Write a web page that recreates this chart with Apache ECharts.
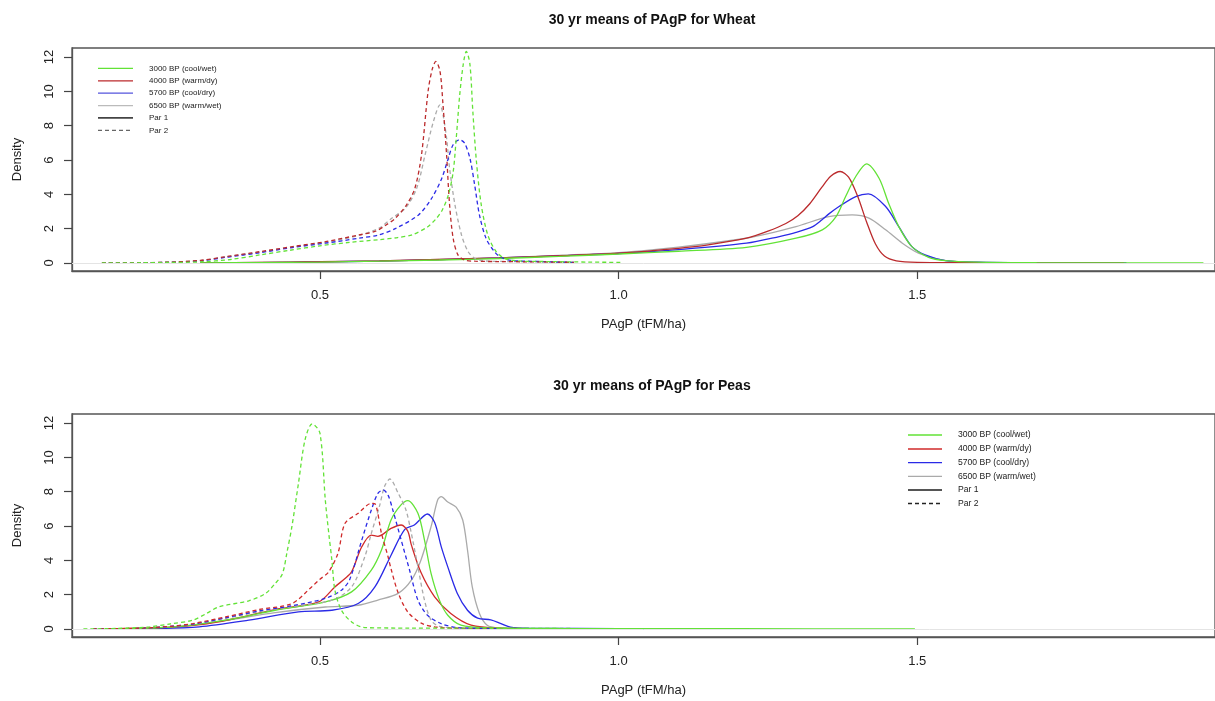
<!DOCTYPE html>
<html>
<head>
<meta charset="utf-8">
<script src="https://cdn.jsdelivr.net/npm/echarts@6/dist/echarts.min.js"></script>
<style>
html,body{margin:0;padding:0;background:#fff;}
#chart{width:1215px;height:701px;}
</style>
</head>
<body>
<div id="chart"></div>
<script>
// ---------- data ----------
const titles = ['30 yr means of PAgP for Wheat', '30 yr means of PAgP for Peas'];
const xAxisName = 'PAgP (tFM/ha)';
const yAxisName = 'Density';
const xTicks = [0.5, 1.0, 1.5];
const yTicks = [0, 2, 4, 6, 8, 10, 12];
const legendLabels = ['3000 BP (cool/wet)', '4000 BP (warm/dy)', '5700 BP (cool/dry)', '6500 BP (warm/wet)', 'Par 1', 'Par 2'];

// Wheat, Par 1 (solid)
const wheatP1Green = [[0.3,0],[0.4,0.02],[0.5,0.05],[0.6,0.1],[0.7,0.17],[0.8,0.26],[0.9,0.38],[1.0,0.52],[1.1,0.68],[1.214,0.91],[1.297,1.44],[1.341,1.93],[1.364,2.7],[1.380,3.87],[1.397,5.04],[1.415,5.78],[1.436,4.94],[1.452,3.48],[1.469,2.12],[1.491,0.95],[1.519,0.33],[1.547,0.14],[1.6,0.05],[1.7,0.02],[1.979,0]];
const wheatP1Red = [[0.3,0],[0.4,0.03],[0.5,0.07],[0.6,0.12],[0.7,0.2],[0.8,0.3],[0.9,0.42],[1.0,0.57],[1.1,0.85],[1.15,1.05],[1.214,1.44],[1.25,1.85],[1.28,2.3],[1.30,2.75],[1.32,3.45],[1.34,4.4],[1.355,5.05],[1.371,5.33],[1.385,5.0],[1.40,3.9],[1.415,2.4],[1.43,1.1],[1.445,0.4],[1.465,0.12],[1.5,0.03],[1.6,0.01],[1.846,0]];
const wheatP1Blue = [[0.3,0],[0.4,0.02],[0.5,0.06],[0.6,0.11],[0.7,0.19],[0.8,0.29],[0.9,0.41],[1.0,0.55],[1.1,0.78],[1.214,1.15],[1.269,1.54],[1.297,1.78],[1.325,2.12],[1.34,2.5],[1.352,2.86],[1.369,3.29],[1.397,3.87],[1.418,4.03],[1.447,3.29],[1.469,2.12],[1.491,0.95],[1.513,0.47],[1.547,0.14],[1.6,0.04],[1.7,0.01],[1.85,0]];
const wheatP1Gray = [[0.3,0],[0.4,0.03],[0.5,0.07],[0.6,0.12],[0.7,0.2],[0.8,0.3],[0.9,0.44],[1.0,0.6],[1.1,0.92],[1.214,1.44],[1.241,1.63],[1.297,2.12],[1.352,2.7],[1.391,2.8],[1.419,2.61],[1.447,1.93],[1.475,1.15],[1.502,0.57],[1.536,0.21],[1.58,0.06],[1.7,0.01],[1.85,0]];
// Wheat, Par 2 (dashed)
const wheatP2Green = [[0.135,0],[0.2,0.01],[0.25,0.03],[0.3,0.06],[0.35,0.2],[0.4,0.47],[0.45,0.74],[0.5,1.0],[0.55,1.2],[0.6,1.36],[0.63,1.48],[0.655,1.65],[0.68,2.1],[0.695,2.6],[0.705,3.1],[0.715,3.97],[0.723,5.3],[0.728,7.2],[0.734,9.8],[0.740,11.6],[0.745,12.33],[0.751,11.6],[0.756,8.8],[0.762,5.9],[0.770,3.4],[0.781,1.63],[0.795,0.66],[0.809,0.27],[0.83,0.12],[0.88,0.08],[0.95,0.05],[1.005,0.03]];
const wheatP2Red = [[0.135,0],[0.2,0.01],[0.25,0.05],[0.3,0.15],[0.343,0.37],[0.4,0.66],[0.454,0.95],[0.509,1.24],[0.565,1.63],[0.593,1.85],[0.61,2.2],[0.626,2.6],[0.645,3.39],[0.659,4.36],[0.670,6.3],[0.681,10.0],[0.688,11.3],[0.694,11.75],[0.701,11.17],[0.706,9.22],[0.712,6.3],[0.717,3.39],[0.723,1.44],[0.731,0.47],[0.742,0.17],[0.76,0.1],[0.8,0.08],[0.87,0.06],[0.925,0.03]];
const wheatP2Blue = [[0.135,0],[0.2,0.01],[0.25,0.04],[0.3,0.12],[0.343,0.33],[0.4,0.6],[0.454,0.9],[0.509,1.15],[0.565,1.44],[0.598,1.63],[0.626,2.0],[0.665,2.8],[0.687,3.77],[0.704,4.94],[0.715,6.11],[0.723,6.89],[0.734,7.18],[0.742,6.99],[0.751,6.11],[0.759,4.55],[0.767,2.8],[0.778,1.44],[0.792,0.66],[0.803,0.33],[0.82,0.15],[0.87,0.08],[0.925,0.03]];
const wheatP2Gray = [[0.135,0],[0.2,0.01],[0.25,0.05],[0.3,0.14],[0.343,0.35],[0.4,0.64],[0.454,0.93],[0.509,1.2],[0.565,1.6],[0.6,2.05],[0.62,2.6],[0.643,3.19],[0.662,4.36],[0.676,6.3],[0.690,8.25],[0.701,9.22],[0.706,8.64],[0.712,7.28],[0.717,5.52],[0.726,3.39],[0.737,1.63],[0.748,0.66],[0.759,0.27],[0.775,0.12],[0.82,0.08],[0.9,0.05],[0.925,0.03]];

// Peas, Par 1 (solid)
const peasP1Green = [[0.15,0],[0.25,0.1],[0.342,0.51],[0.425,1.09],[0.509,1.58],[0.553,2.16],[0.586,3.43],[0.603,4.6],[0.619,6.35],[0.635,7.2],[0.647,7.48],[0.664,6.74],[0.675,5.18],[0.686,3.24],[0.700,1.68],[0.714,0.80],[0.736,0.22],[0.78,0.06],[0.9,0.03],[1.0,0.02],[1.2,0.01],[1.496,0]];
const peasP1Red = [[0.15,0],[0.25,0.1],[0.3,0.25],[0.35,0.55],[0.425,1.13],[0.498,1.58],[0.525,2.45],[0.542,2.94],[0.553,3.33],[0.570,4.79],[0.586,5.47],[0.597,5.4],[0.619,5.86],[0.636,6.06],[0.647,5.7],[0.653,4.9],[0.669,3.3],[0.692,1.87],[0.719,0.90],[0.753,0.22],[0.8,0.05],[0.9,0.02],[1.0,0.01]];
const peasP1Blue = [[0.15,0],[0.215,0.02],[0.298,0.12],[0.381,0.51],[0.464,0.99],[0.520,1.09],[0.564,1.48],[0.592,2.45],[0.619,4.3],[0.642,5.8],[0.658,6.06],[0.68,6.7],[0.692,6.2],[0.703,4.8],[0.714,3.62],[0.730,2.07],[0.747,1.09],[0.764,0.63],[0.786,0.53],[0.803,0.31],[0.819,0.1],[0.85,0.04],[1.0,0.02],[1.147,0]];
const peasP1Gray = [[0.15,0],[0.25,0.08],[0.342,0.5],[0.425,0.95],[0.509,1.28],[0.564,1.38],[0.597,1.68],[0.631,2.07],[0.653,2.84],[0.669,4.01],[0.686,5.96],[0.697,7.52],[0.703,7.71],[0.714,7.4],[0.728,7.1],[0.739,6.35],[0.747,4.6],[0.755,2.45],[0.767,0.90],[0.780,0.22],[0.8,0.06],[0.85,0.02]];
// Peas, Par 2 (dashed)
const peasP2Green = [[0.104,0],[0.16,0.03],[0.215,0.12],[0.25,0.3],[0.287,0.51],[0.31,0.9],[0.331,1.29],[0.381,1.64],[0.409,2.07],[0.425,2.65],[0.437,3.2],[0.445,4.5],[0.453,5.96],[0.464,8.49],[0.475,11.02],[0.487,11.96],[0.5,11.41],[0.509,7.5],[0.515,5.5],[0.520,4.0],[0.525,2.26],[0.536,1.09],[0.553,0.41],[0.575,0.08],[0.65,0.05],[0.8,0.04],[0.95,0.02]];
const peasP2Red = [[0.12,0],[0.2,0.05],[0.25,0.15],[0.287,0.31],[0.342,0.70],[0.398,1.13],[0.453,1.48],[0.486,2.45],[0.50,2.9],[0.514,3.3],[0.53,4.4],[0.542,6.16],[0.564,6.74],[0.586,7.32],[0.592,7.3],[0.603,5.57],[0.614,4.21],[0.619,3.5],[0.631,2.1],[0.647,0.99],[0.669,0.35],[0.692,0.12],[0.73,0.04],[0.8,0.01]];
const peasP2Blue = [[0.12,0],[0.2,0.04],[0.287,0.28],[0.342,0.65],[0.398,1.05],[0.453,1.35],[0.509,1.78],[0.536,2.26],[0.55,2.9],[0.570,5.18],[0.586,6.93],[0.597,7.9],[0.606,8.1],[0.614,7.8],[0.622,6.93],[0.636,5.18],[0.650,3.43],[0.664,1.68],[0.680,0.80],[0.703,0.31],[0.73,0.08],[0.8,0.02]];
const peasP2Gray = [[0.12,0],[0.2,0.04],[0.287,0.28],[0.342,0.62],[0.398,1.0],[0.453,1.3],[0.520,1.68],[0.553,2.45],[0.575,4.2],[0.586,5.57],[0.6,7.2],[0.608,8.3],[0.617,8.74],[0.631,7.91],[0.644,6.93],[0.653,5.57],[0.664,3.62],[0.675,1.68],[0.686,0.51],[0.70,0.15],[0.75,0.03],[0.8,0.01]];

// ---------- styles ----------
const FONT = '"Liberation Sans", Arial, Helvetica, sans-serif';
const C_GREEN = '#62e236';
const C_RED_TOP = '#bb2a2c';
const C_RED_BOT = '#d02a2a';
const C_BLUE = '#2a2ae6';
const C_GRAY = '#aaaaaa';
const DASH = [4, 3];

const X_MIN = 0.0849, X_MAX = 1.9984, Y_MIN = -0.47, Y_MAX = 12.53;

function line(data, color, dashed, idx) {
  return {
    type: 'line', data: data, xAxisIndex: idx, yAxisIndex: idx,
    showSymbol: false, symbol: 'none', smooth: 0.3,
    silent: true, animation: false,
    lineStyle: { color: color, width: 1.3, type: dashed ? DASH : 'solid' }
  };
}

function zeroLine(idx) {
  return {
    type: 'line', data: [], xAxisIndex: idx, yAxisIndex: idx, silent: true, animation: false,
    markLine: { silent: true, symbol: 'none', label: { show: false },
      lineStyle: { color: '#e4e4e4', width: 1, type: 'solid' },
      data: [{ yAxis: 0 }], animation: false }
  };
}

function gridCfg(top) {
  return { left: 72, top: top, width: 1150, height: 223, show: true,
    borderColor: '#555', borderWidth: 1.3, backgroundColor: 'transparent' };
}

function xAxisCfg(idx) {
  return {
    type: 'value', gridIndex: idx, min: X_MIN, max: X_MAX,
    name: xAxisName, nameLocation: 'middle', nameGap: 47,
    nameTextStyle: { fontFamily: FONT, fontSize: 13, color: '#222' },
    axisLine: { show: true, onZero: false, lineStyle: { color: '#555', width: 1.3 } },
    axisTick: { show: true, length: 8, customValues: xTicks, lineStyle: { color: '#444', width: 1.2 } },
    axisLabel: { customValues: xTicks, margin: 18, fontFamily: FONT, fontSize: 13, color: '#222',
      formatter: v => v.toFixed(1) },
    splitLine: { show: false }
  };
}

function yAxisCfg(idx) {
  return {
    type: 'value', gridIndex: idx, min: Y_MIN, max: Y_MAX,
    name: yAxisName, nameLocation: 'middle', nameGap: 48, nameRotate: 90,
    nameTextStyle: { fontFamily: FONT, fontSize: 13, color: '#222' },
    axisLine: { show: true, onZero: false, lineStyle: { color: '#555', width: 1.3 } },
    axisTick: { show: true, length: 8, customValues: yTicks, lineStyle: { color: '#444', width: 1.2 } },
    axisLabel: { customValues: yTicks, rotate: 90, margin: 16, fontFamily: FONT, fontSize: 13, color: '#222' },
    splitLine: { show: false }
  };
}

function legendGraphic(x0, x1, xt, rows, fontSize, colors, par1Color, par2Color) {
  const els = [];
  legendLabels.forEach((lab, i) => {
    const y = rows[i];
    let color, dashed = false, width = 1.3;
    if (i < 4) color = colors[i];
    else if (i === 4) { color = par1Color; width = 1.8; }
    else { color = par2Color; dashed = true; width = 1.3; }
    els.push({ type: 'line', silent: true,
      shape: { x1: x0, y1: y, x2: x1, y2: y },
      style: { stroke: color, lineWidth: width, lineDash: dashed ? [4, 3] : null } });
    els.push({ type: 'text', silent: true, x: xt, y: y,
      style: { text: lab, fill: '#222', font: fontSize + 'px ' + FONT, textVerticalAlign: 'middle', textAlign: 'left' } });
  });
  return els;
}

const chart = echarts.init(document.getElementById('chart'), null, { renderer: 'canvas' });

const graphics = []
  .concat(legendGraphic(98, 133, 149, [68.3, 80.8, 93.2, 105.6, 117.9, 130.3], 8,
    [C_GREEN, C_RED_TOP, '#5555dd', '#bbbbbb'], '#444', '#666'))
  .concat(legendGraphic(908, 942, 958, [435, 449, 462.7, 476.3, 490, 503.5], 8.6,
    [C_GREEN, C_RED_BOT, C_BLUE, '#aaaaaa'], '#555', '#222'));

chart.setOption({
  animation: false,
  backgroundColor: '#ffffff',
  title: [
    { text: titles[0], left: 647, top: 8, textAlign: 'center',
      textStyle: { fontFamily: FONT, fontSize: 14, fontWeight: 'bold', color: '#111' } },
    { text: titles[1], left: 647, top: 374, textAlign: 'center',
      textStyle: { fontFamily: FONT, fontSize: 14, fontWeight: 'bold', color: '#111' } }
  ],
  grid: [gridCfg(48), gridCfg(414)],
  xAxis: [xAxisCfg(0), xAxisCfg(1)],
  yAxis: [yAxisCfg(0), yAxisCfg(1)],
  graphic: graphics,
  series: [
    zeroLine(0), zeroLine(1),
    line(wheatP1Gray, C_GRAY, false, 0),
    line(wheatP1Blue, C_BLUE, false, 0),
    line(wheatP1Red, C_RED_TOP, false, 0),
    line(wheatP1Green, C_GREEN, false, 0),
    line(wheatP2Gray, C_GRAY, true, 0),
    line(wheatP2Blue, C_BLUE, true, 0),
    line(wheatP2Red, C_RED_TOP, true, 0),
    line(wheatP2Green, C_GREEN, true, 0),
    line(peasP1Gray, C_GRAY, false, 1),
    line(peasP1Blue, C_BLUE, false, 1),
    line(peasP1Red, C_RED_BOT, false, 1),
    line(peasP1Green, C_GREEN, false, 1),
    line(peasP2Gray, C_GRAY, true, 1),
    line(peasP2Blue, C_BLUE, true, 1),
    line(peasP2Red, C_RED_BOT, true, 1),
    line(peasP2Green, C_GREEN, true, 1)
  ]
});
</script>
</body>
</html>
